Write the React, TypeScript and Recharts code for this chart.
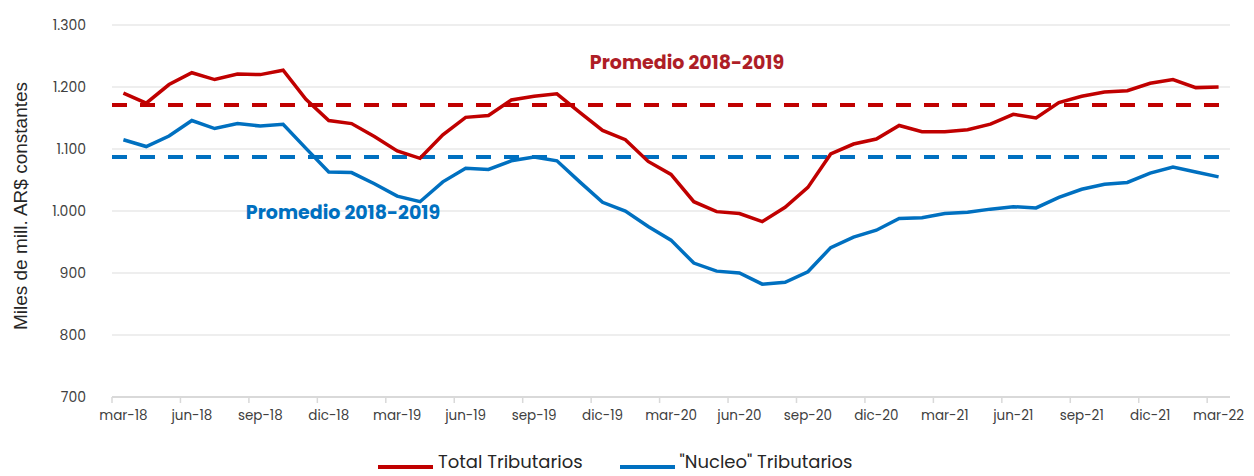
/**
 * Recaudación tributaria en términos reales
 * Recharts LineChart, total vs "núcleo" con promedios 2018-2019
 */

import { LineChart, Line, XAxis, YAxis, CartesianGrid, ReferenceLine } from 'recharts';

// ══════════════════════════════════════════════════════════════════
// DATA
// ══════════════════════════════════════════════════════════════════

const months = [
  'mar-18', 'abr-18', 'may-18', 'jun-18', 'jul-18', 'ago-18', 'sep-18', 'oct-18', 'nov-18', 'dic-18',
  'ene-19', 'feb-19', 'mar-19', 'abr-19', 'may-19', 'jun-19', 'jul-19', 'ago-19', 'sep-19', 'oct-19',
  'nov-19', 'dic-19', 'ene-20', 'feb-20', 'mar-20', 'abr-20', 'may-20', 'jun-20', 'jul-20', 'ago-20',
  'sep-20', 'oct-20', 'nov-20', 'dic-20', 'ene-21', 'feb-21', 'mar-21', 'abr-21', 'may-21', 'jun-21',
  'jul-21', 'ago-21', 'sep-21', 'oct-21', 'nov-21', 'dic-21', 'ene-22', 'feb-22', 'mar-22',
];

const totalTributarios = [
  1190, 1174, 1204, 1223, 1212, 1221, 1220, 1227, 1180, 1146,
  1141, 1120, 1097, 1085, 1123, 1151, 1154, 1179, 1185, 1189,
  1159, 1130, 1115, 1080, 1059, 1015, 999, 996, 983, 1006,
  1038, 1092, 1108, 1116, 1138, 1128, 1128, 1131, 1140, 1156,
  1150, 1175, 1185, 1192, 1194, 1206, 1212, 1199, 1200,
];

const nucleoTributarios = [
  1115, 1104, 1121, 1146, 1133, 1141, 1137, 1140, 1101, 1063,
  1062, 1044, 1024, 1015, 1047, 1069, 1067, 1081, 1087, 1081,
  1047, 1014, 1000, 975, 953, 916, 903, 900, 882, 885,
  902, 941, 958, 969, 988, 989, 996, 998, 1003, 1007,
  1005, 1022, 1035, 1043, 1046, 1061, 1071, 1063, 1055,
];

const promedioTotal = 1171;
const promedioNucleo = 1087;

const yTicks = [700, 800, 900, 1000, 1100, 1200, 1300];

const data = months.map((m, i) => ({
  month: m,
  total: totalTributarios[i],
  nucleo: nucleoTributarios[i],
}));

// ══════════════════════════════════════════════════════════════════
// LAYOUT
// ══════════════════════════════════════════════════════════════════

const WIDTH = 1254;
const HEIGHT = 476;
const MARGIN = { top: 25, right: 24, left: 52, bottom: 49 };
const Y_AXIS_W = 60;
const PLOT_W = WIDTH - MARGIN.left - MARGIN.right - Y_AXIS_W;
const STEP = PLOT_W / months.length;

const RED = '#C00000';
const BLUE = '#0070C0';
const FONT = 'Poppins, "Open Sans", "Noto Sans", sans-serif';

const fmt = (v: number) => v.toLocaleString('de-DE');

// ══════════════════════════════════════════════════════════════════
// CUSTOM X TICK (tick mark at band boundary, label centred)
// ══════════════════════════════════════════════════════════════════

function MonthTick({ x, y, payload }: any) {
  const edge = x - STEP / 2;
  return (
    <g>
      <line x1={edge} y1={y - 8} x2={edge} y2={y - 2} stroke="#d9d9d9" strokeWidth={1.5} />
      <text x={x} y={y + 15} textAnchor="middle" fill="#404040" fontSize={13.5} fontFamily={FONT}>
        {payload.value}
      </text>
    </g>
  );
}

function PromedioLabel({ viewBox, text, color, dx, dy }: any) {
  return (
    <text
      x={viewBox.x + dx}
      y={viewBox.y + dy}
      textAnchor="middle"
      fill={color}
      fontSize={19}
      fontWeight={700}
      fontFamily={FONT}
    >
      {text}
    </text>
  );
}

// ══════════════════════════════════════════════════════════════════
// MAIN COMPONENT
// ══════════════════════════════════════════════════════════════════

export default function App() {
  return (
    <div style={{ position: 'absolute', left: 0, top: 0, width: WIDTH, height: HEIGHT, background: '#fff', overflow: 'hidden' }}>
      <LineChart width={WIDTH} height={HEIGHT} data={data} margin={MARGIN}>
        <CartesianGrid vertical={false} stroke="#e8e8e8" strokeWidth={1.5} />

        <XAxis
          dataKey="month"
          scale="band"
          interval={2}
          axisLine={{ stroke: '#d9d9d9', strokeWidth: 2 }}
          tickLine={false}
          tickSize={6}
          tickMargin={2}
          tick={<MonthTick />}
        />

        <YAxis
          width={Y_AXIS_W}
          domain={[700, 1300]}
          ticks={yTicks}
          tickFormatter={fmt}
          axisLine={false}
          tickLine={false}
          tickSize={6}
          tickMargin={20}
          tick={{ fill: '#404040', fontSize: 14, fontFamily: FONT }}
        />

        {/* Promedios 2018-2019 */}
        <ReferenceLine
          y={promedioTotal}
          stroke={RED}
          strokeWidth={4}
          strokeDasharray="15 13"
          label={<PromedioLabel text="Promedio 2018-2019" color="#AE1E27" dx={575} dy={-36} />}
        />
        <ReferenceLine
          y={promedioNucleo}
          stroke={BLUE}
          strokeWidth={4}
          strokeDasharray="15 13"
          label={<PromedioLabel text="Promedio 2018-2019" color={BLUE} dx={231} dy={62} />}
        />

        <Line
          type="linear"
          dataKey="total"
          stroke={RED}
          strokeWidth={3.5}
          dot={false}
          isAnimationActive={false}
        />
        <Line
          type="linear"
          dataKey="nucleo"
          stroke={BLUE}
          strokeWidth={3.5}
          dot={false}
          isAnimationActive={false}
        />
      </LineChart>

      {/* Y axis title */}
      <div
        style={{
          position: 'absolute',
          left: 21,
          top: 206,
          transform: 'translate(-50%, -50%) rotate(-90deg)',
          whiteSpace: 'nowrap',
          fontFamily: '"Liberation Sans", Arial, sans-serif',
          fontSize: 19,
          color: '#262626',
        }}
      >
        Miles de mill. AR$ constantes
      </div>

      {/* Legend */}
      <div
        style={{
          position: 'absolute',
          left: 378,
          top: 450,
          display: 'flex',
          alignItems: 'center',
          fontFamily: FONT,
          fontSize: 18,
          lineHeight: '24px',
          color: '#262626',
          whiteSpace: 'nowrap',
        }}
      >
        <span style={{ display: 'inline-block', width: 55, height: 4, background: RED, marginRight: 5, marginTop: 10 }} />
        <span>Total Tributarios</span>
        <span style={{ display: 'inline-block', width: 55, height: 4, background: BLUE, marginLeft: 37, marginRight: 5, marginTop: 10 }} />
        <span>"Nucleo" Tributarios</span>
      </div>
    </div>
  );
}
